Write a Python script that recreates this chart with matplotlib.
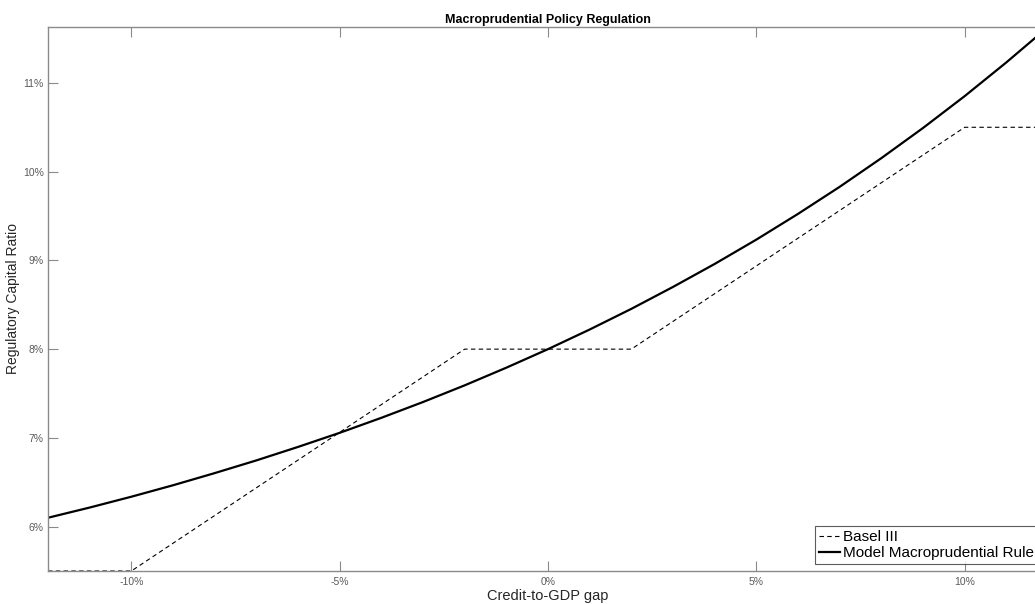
#!/usr/bin/env python3
"""Macroprudential policy regulation: Basel III buffer vs model rule."""

import matplotlib
matplotlib.use("Agg")
import matplotlib.pyplot as plt
from matplotlib.ticker import FuncFormatter

# ── Data (percent) ────────────────────────────────────────────────────────────

basel_gap = [-12, -10, -2, 2, 10, 12]
basel_ratio = [5.5, 5.5, 8.0, 8.0, 10.5, 10.5]

model_gap = [-12, -11, -10, -9, -8, -7, -6, -5, -4, -3, -2, -1, 0,
             1, 2, 3, 4, 5, 6, 7, 8, 9, 10, 11, 12]
model_ratio = [6.10, 6.215, 6.337, 6.466, 6.603, 6.746, 6.898, 7.057,
               7.226, 7.404, 7.592, 7.791, 8.000, 8.221, 8.454, 8.701,
               8.960, 9.234, 9.524, 9.829, 10.152, 10.492, 10.851,
               11.231, 11.630]

x_ticks = [-10, -5, 0, 5, 10]
y_ticks = [6, 7, 8, 9, 10, 11]

# ── Plot ──────────────────────────────────────────────────────────────────────

plt.rcParams["font.family"] = ["Liberation Sans", "DejaVu Sans"]

W, H = 1035, 604
fig = plt.figure(figsize=(W / 100, H / 100), dpi=100)
# axes run past the right edge of the figure, as in the original export
ax = fig.add_axes([48 / W, 1 - 571 / H, 1000 / W, 544 / H])

ax.plot(basel_gap, basel_ratio, color="black", lw=0.8,
        linestyle=(0, (4, 3)), label="Basel III")
ax.plot(model_gap, model_ratio, color="black", lw=1.6,
        label="Model Macroprudential Rule")

ax.set_xlim(-12, 12)
ax.set_ylim(5.5, 11.63)
ax.set_xticks(x_ticks)
ax.set_yticks(y_ticks)
pct = FuncFormatter(lambda v, _: f"{v:g}%")
ax.xaxis.set_major_formatter(pct)
ax.yaxis.set_major_formatter(pct)

axis_grey = "#8a8a8a"
for sp in ax.spines.values():
    sp.set_color(axis_grey)
    sp.set_linewidth(1.0)
ax.tick_params(direction="in", length=7.5, width=0.8, color=axis_grey,
               labelsize=7.5, labelcolor="#5a5a5a",
               top=True, right=True)
ax.tick_params(axis="x", pad=4)
ax.tick_params(axis="y", pad=3)

ax.set_title("Macroprudential Policy Regulation", fontsize=9,
             fontweight="bold", pad=3)
ax.set_xlabel("Credit-to-GDP gap", fontsize=10.5, color="#262626", labelpad=2)
ax.set_ylabel("Regulatory Capital Ratio", fontsize=10, color="#262626",
              labelpad=2)

leg = ax.legend(loc="lower left", bbox_to_anchor=(815 / W, 1 - 564 / H),
                bbox_transform=fig.transFigure, fontsize=11, frameon=True,
                fancybox=False, handlelength=1.4, handletextpad=0.2,
                labelspacing=0.15, borderpad=0.25, borderaxespad=0)
leg.get_frame().set_edgecolor("#333333")
leg.get_frame().set_linewidth(0.8)

fig.savefig("out.png", dpi=100)
plt.close(fig)
